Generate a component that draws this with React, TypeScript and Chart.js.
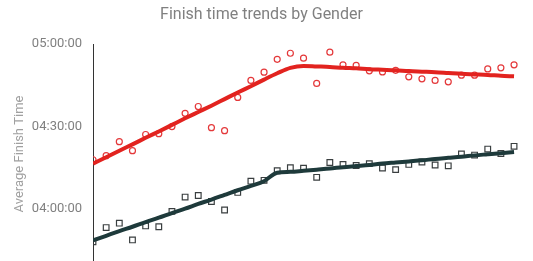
import React, { useEffect, useRef } from 'react';
import { Chart, registerables } from 'chart.js';

Chart.register(...registerables);

// Race editions, in order (the x axis itself is hidden)
const raceIndex = [
  0, 1, 2, 3, 4, 5, 6, 7, 8, 9, 10, 11, 12, 13, 14, 15, 16,
  17, 18, 19, 20, 21, 22, 23, 24, 25, 26, 27, 28, 29, 30, 31, 32,
];

// Average finish times, in minutes
const femaleAvg = [
  257.9, 259.4, 264.5, 261.2, 267.1, 267.4, 270.0, 274.8, 277.3, 269.6, 268.5,
  280.6, 286.8, 289.8, 294.5, 296.7, 294.9, 285.7, 297.1, 292.5, 292.3, 290.3,
  289.9, 290.5, 288.1, 287.4, 286.8, 286.3, 288.7, 288.7, 291.0, 291.4, 292.5,
];
const maleAvg = [
  228.0, 233.2, 234.8, 228.7, 233.8, 233.5, 239.1, 244.3, 244.9, 242.7, 239.6,
  246.0, 250.1, 250.4, 253.9, 255.0, 254.8, 251.5, 256.9, 256.2, 255.8, 256.5,
  254.9, 254.3, 256.2, 257.1, 256.0, 255.7, 260.0, 259.6, 261.8, 260.2, 262.8,
];

// Smoothed trend lines, in minutes
const femaleTrend = [
  256.5, 258.8, 261.2, 263.5, 265.9, 268.2, 270.6, 273.0, 275.3, 277.6, 280.0,
  282.4, 284.7, 287.1, 289.4, 291.4, 292.1, 291.9, 291.7, 291.4, 291.2, 290.9,
  290.7, 290.5, 290.2, 290.0, 289.8, 289.5, 289.2, 289.0, 288.8, 288.5, 288.3,
];
const maleTrend = [
  228.5, 230.2, 231.9, 233.5, 235.2, 236.8, 238.5, 240.1, 241.8, 243.4, 245.1,
  246.8, 248.4, 250.1, 253.2, 253.5, 253.9, 254.3, 254.7, 255.2, 255.6, 256.0,
  256.5, 256.9, 257.3, 257.7, 258.2, 258.6, 259.0, 259.5, 259.9, 260.3, 260.7,
];

// Y axis range and labelled ticks, in minutes
const yMin = 220;
const yMax = 300;
const yTicks = [240, 270, 300];

const RED = '#e2231f';
const DARK = '#1e3a3b';
const TEXT = '#808080';

const pad = (n: number) => String(n).padStart(2, '0');
const formatMinutes = (m: number) => {
  const total = Math.round(m * 60);
  const h = Math.floor(total / 3600);
  const mm = Math.floor((total % 3600) / 60);
  const s = total % 60;
  return `${pad(h)}:${pad(mm)}:${pad(s)}`;
};

const toPoints = (values: number[]) => values.map((y, i) => ({ x: raceIndex[i], y }));

export default function App() {
  const canvasRef = useRef<HTMLCanvasElement | null>(null);

  useEffect(() => {
    if (!canvasRef.current) return;
    Chart.defaults.font.family = 'Roboto, "Noto Sans", sans-serif';

    const chart = new Chart(canvasRef.current, {
      type: 'line',
      data: {
        datasets: [
          {
            label: 'Female trend',
            data: toPoints(femaleTrend),
            borderColor: RED,
            borderWidth: 4,
            pointRadius: 0,
            cubicInterpolationMode: 'monotone',
            order: 1,
          },
          {
            label: 'Male trend',
            data: toPoints(maleTrend),
            borderColor: DARK,
            borderWidth: 4,
            pointRadius: 0,
            cubicInterpolationMode: 'monotone',
            order: 2,
          },
          {
            label: 'Female',
            data: toPoints(femaleAvg),
            showLine: false,
            pointStyle: 'circle',
            pointRadius: 3,
            pointBorderWidth: 1.2,
            pointBorderColor: '#e4383a',
            pointBackgroundColor: 'rgba(255,255,255,0)',
            order: 3,
          },
          {
            label: 'Male',
            data: toPoints(maleAvg),
            showLine: false,
            pointStyle: 'rect',
            pointRadius: 4,
            pointBorderWidth: 1.2,
            pointBorderColor: '#3a3f40',
            pointBackgroundColor: 'rgba(255,255,255,0)',
            order: 4,
          },
        ],
      },
      options: {
        animation: false,
        responsive: false,
        layout: { padding: { left: 0, right: 10, top: 0, bottom: 0 } },
        plugins: {
          legend: { display: false },
          tooltip: { enabled: false },
          title: {
            display: true,
            text: 'Finish time trends by Gender',
            color: TEXT,
            font: { size: 16, weight: 'normal' },
            padding: { top: 5, bottom: 20 },
          },
        },
        scales: {
          x: {
            type: 'linear',
            display: false,
            min: 0,
            max: 32.68,
          },
          y: {
            type: 'linear',
            min: yMin,
            max: yMax,
            grid: { display: false, drawTicks: false },
            border: { display: true, color: '#333', width: 1 },
            ticks: {
              color: TEXT,
              font: { size: 13 },
              padding: 11,
              callback: (v) => formatMinutes(Number(v)),
            },
            title: {
              display: true,
              text: 'Average Finish Time',
              color: '#a0a0a0',
              font: { size: 13 },
              padding: { top: 12, bottom: 0 },
            },
            afterBuildTicks: (scale) => {
              scale.ticks = yTicks.map((value) => ({ value }));
            },
            afterFit: (scale) => {
              scale.width = 93;
              scale.paddingBottom = 0;
            },
          },
        },
      },
    });

    return () => chart.destroy();
  }, []);

  return (
    <div
      style={{
        position: 'fixed',
        left: 0,
        top: 0,
        width: 533,
        height: 261,
        overflow: 'hidden',
        background: '#fff',
      }}
    >
      <canvas ref={canvasRef} width={533} height={269} style={{ display: 'block' }} />
    </div>
  );
}
